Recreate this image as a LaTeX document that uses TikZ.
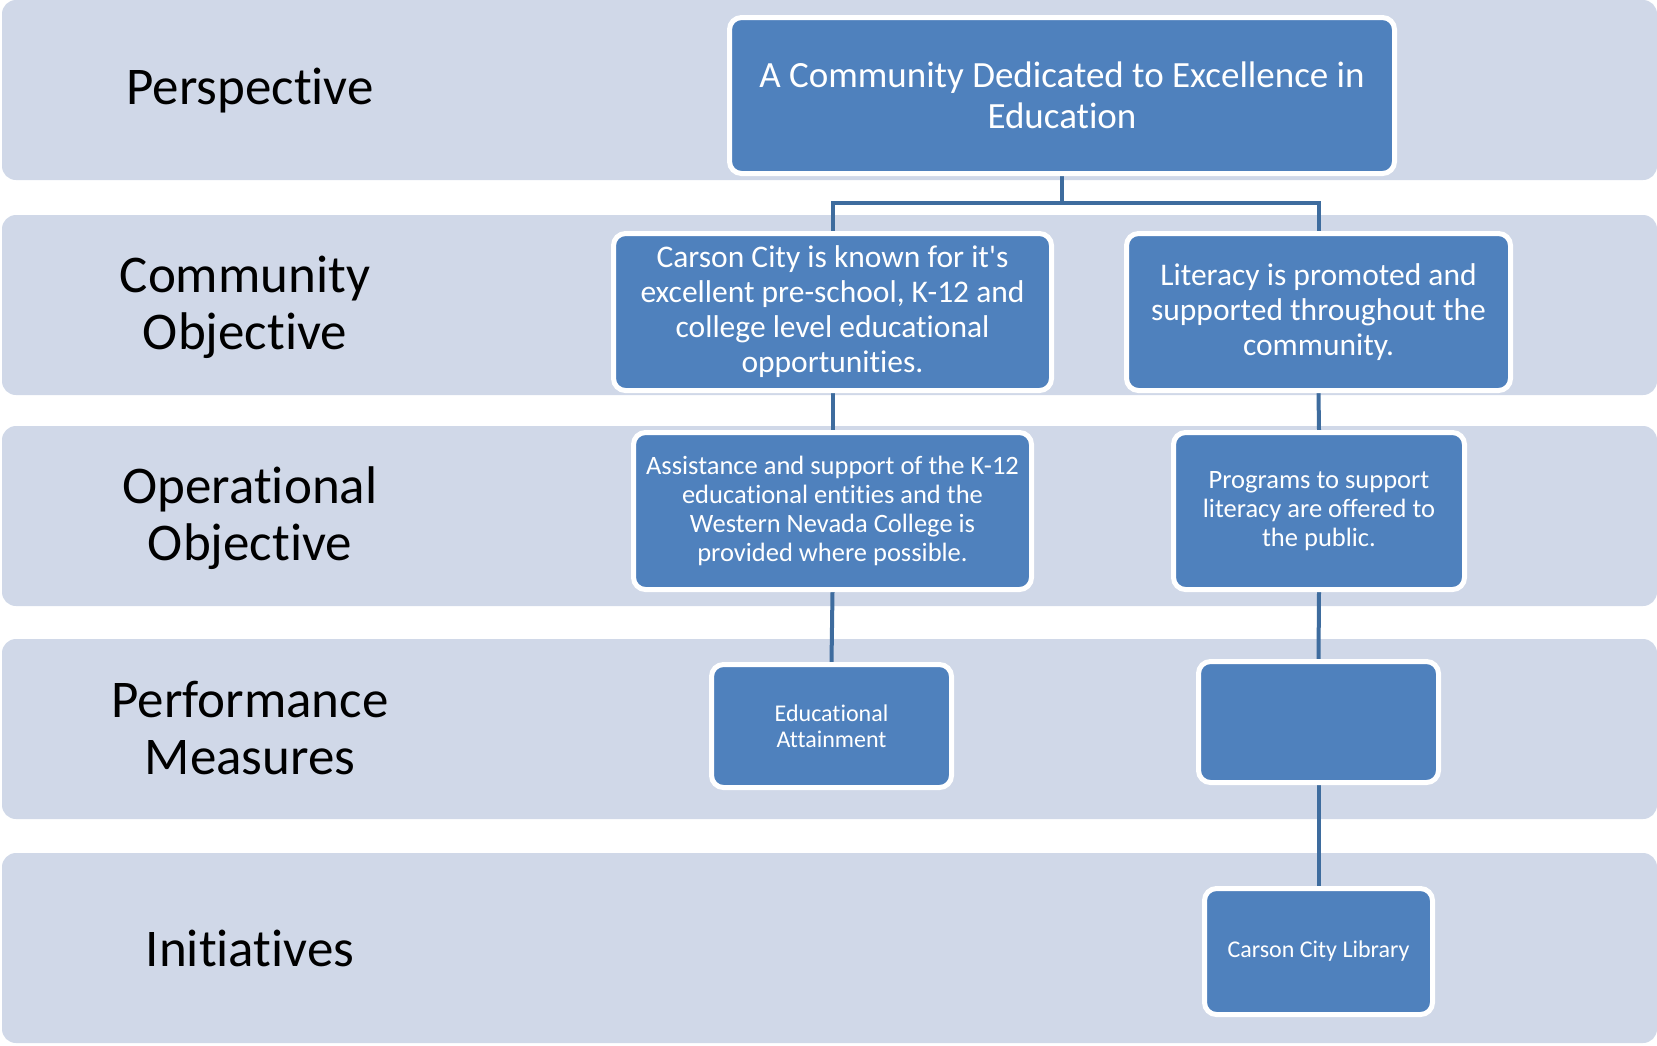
\documentclass[tikz,border=0pt]{standalone}
\usepackage{fontspec}
\setmainfont{Carlito}
\newfontfamily\calfont{Carlito}[Ligatures=NoCommon]
\definecolor{bandfill}{HTML}{D0D8E8}
\definecolor{boxfill}{HTML}{4F81BD}
\definecolor{connc}{HTML}{3E6C9E}
\pgfdeclarelayer{bg}
\pgfdeclarelayer{conn}
\pgfsetlayers{bg,conn,main}
\begin{document}
\begin{tikzpicture}[x=1pt,y=-1pt,
  band/.style={fill=bandfill, rounded corners=14pt},
  lab/.style={font=\calfont\fontsize{53}{57}\selectfont, align=center, text=black, inner sep=0pt},
  box/.style={draw=white, line width=5pt, fill=boxfill, rounded corners=12pt, text=white, align=center, inner sep=0pt},
  conn/.style={draw=connc, line width=4pt}]
\useasboundingbox (0,0) rectangle (1657,1045);
\begin{pgfonlayer}{bg}
\fill[band] (2,0) rectangle (1657,180);
\fill[band] (2,215) rectangle (1657,395);
\fill[band] (2,426) rectangle (1657,606);
\fill[band] (2,639) rectangle (1657,819);
\fill[band] (2,853) rectangle (1657,1043);
\end{pgfonlayer}
% row labels
\node[lab] (l1) at (250,91) {Perspective};
\node[lab] (l2) at (245,307) {Community\\Objective};
\node[lab] (l3) at (250,518) {Operational\\Objective};
\node[lab] (l4) at (250,728) {Performance\\Measures};
\node[lab] (l5) at (250,948) {Initiatives};
% boxes
\node[box, minimum width=665pt, minimum height=156pt, font=\calfont\fontsize{37}{40.5}\selectfont] (top) at (1062,95.5)
  {A Community Dedicated to Excellence in\\Education};
\node[box, minimum width=438pt, minimum height=157pt, font=\calfont\fontsize{31.5}{35}\selectfont] (c1) at (832.5,312)
  {Carson City is known for it\symbol{39}s\\excellent pre-school, K-12 and\\college level educational\\opportunities.};
\node[box, minimum width=384pt, minimum height=157pt, font=\calfont\fontsize{31.5}{35}\selectfont] (c2) at (1318.5,312)
  {Literacy is promoted and\\supported throughout the\\community.};
\node[box, minimum width=398pt, minimum height=157pt, font=\calfont\fontsize{26.5}{29}\selectfont] (o1) at (832.5,511)
  {Assistance and support of the K-12\\educational entities and the\\Western Nevada College is\\provided where possible.};
\node[box, minimum width=291pt, minimum height=157pt, font=\calfont\fontsize{26.5}{29}\selectfont] (o2) at (1319,511)
  {Programs to support\\literacy are offered to\\the public.};
\node[box, minimum width=240pt, minimum height=123pt, font=\calfont\fontsize{24}{26.5}\selectfont] (p1) at (831.5,726)
  {Educational\\Attainment};
\node[box, minimum width=240pt, minimum height=121pt] (p2) at (1318.5,722) {};
\node[box, minimum width=228pt, minimum height=126pt, font=\calfont\fontsize{24}{26.5}\selectfont] (i2) at (1318.5,951.5)
  {Carson City Library};
% connectors
\coordinate (j) at (1062,203);
\begin{pgfonlayer}{conn}
\draw[conn] (top.south) -- (j) -| (c1.north);
\draw[conn] (j) -| (c2.north);
\draw[conn] (c1.south) -- (o1.north);
\draw[conn] (o1.south) -- (p1.north);
\draw[conn] (c2.south) -- (o2.north);
\draw[conn] (o2.south) -- (p2.north);
\draw[conn] (p2.south) -- (i2.north);
\end{pgfonlayer}
\end{tikzpicture}
\end{document}
